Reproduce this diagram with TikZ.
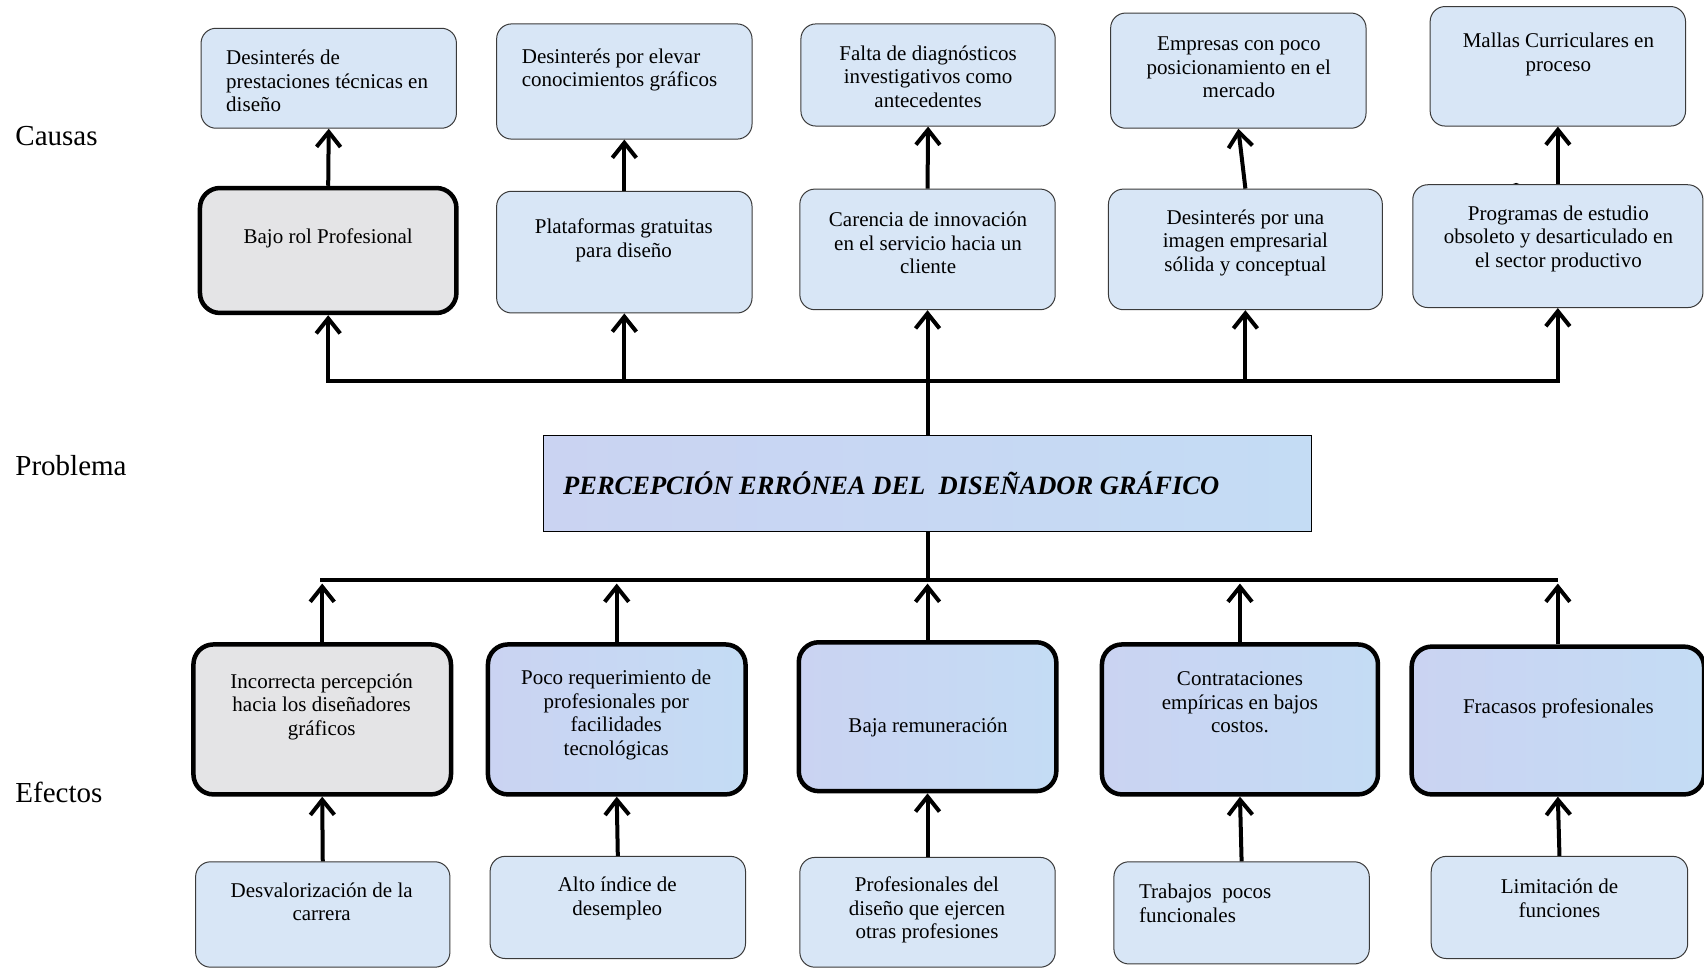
\documentclass[tikz,border=0pt]{standalone}
\usepackage{fontspec}
\setmainfont{Liberation Serif}
\usetikzlibrary{arrows.meta,fit}
\definecolor{lblue}{HTML}{D8E6F6}
\definecolor{pastel}{HTML}{CAD3F2}
\definecolor{pastelb}{HTML}{C4DCF4}
\definecolor{marble}{HTML}{E4E4E6}
\definecolor{edge}{HTML}{3A3A3A}
\begin{document}
\begin{tikzpicture}[x=1.0867pt,y=-1.0867pt,
  thinbox/.style={draw=edge, line width=1pt, fill=lblue, rounded corners=15pt, inner sep=0pt},
  thickbox/.style={draw=black, line width=4.5pt, rounded corners=20pt, inner sep=0pt},
  pastelfill/.style={left color=pastel, right color=pastelb},
  probbox/.style={draw=black, line width=1pt, pastelfill, inner sep=0pt},
  txt/.style={font=\fontsize{21}{23.5}\selectfont, inner sep=0pt},
  side/.style={font=\fontsize{29}{33}\selectfont, anchor=west, inner sep=0pt},
  conn/.style={line width=4pt},
  arr/.style={line width=4pt, -{Straight Barb[length=15pt,width=24pt]}}]
\useasboundingbox (0,0) rectangle (1568,890);
\fill[white] (0,0) rectangle (1568,890);

% side labels
\node[side] (causas) at (14,125) {Causas};
\node[side] (problema) at (14,428) {Problema};
\node[side] (efectos) at (14,729) {Efectos};

% small blob
\fill (1395,172) ellipse [x radius=5pt, y radius=4pt];

% causes, top row
\node[thinbox, fit={(185,26) (420,118)}] (a1) {};
\node[thinbox, fit={(457,22) (692,128)}] (a2) {};
\node[thinbox, fit={(737,22) (971,116)}] (a3) {};
\node[thinbox, fit={(1022,12) (1257,118)}] (a4) {};
\node[thinbox, fit={(1316,6) (1551,116)}] (a5) {};
\node[txt, anchor=west, align=left] (a1t) at (208,74.5) {Desinterés de\\prestaciones técnicas en\\diseño};
\node[txt, anchor=west, align=left] (a2t) at (480,64.5) {Desinterés por elevar\\conocimientos gráficos};
\node[txt, align=center] (a3t) at (854,70.5) {Falta de diagnósticos\\investigativos como\\antecedentes};
\node[txt, align=center] (a4t) at (1140,62) {Empresas con poco\\posicionamiento en el\\mercado};
\node[txt, align=center] (a5t) at (1434,50) {Mallas Curriculares en\\proceso};

% causes, second row
\node[thickbox, fill=marble, fit={(184,173) (420,288)}] (b1) {};
\node[thinbox, fit={(457,176) (692,288)}] (b2) {};
\node[thinbox, fit={(736,174) (971,285)}] (b3) {};
\node[thinbox, fit={(1020,174) (1272,285)}] (b4) {};
\node[thinbox, fit={(1300,170) (1567,283)}] (b5) {};
\node[txt, align=center] (b1t) at (302,219) {Bajo rol Profesional};
\node[txt, align=center] (b2t) at (574,221) {Plataformas gratuitas\\para diseño};
\node[txt, align=center] (b3t) at (854,223.5) {Carencia de innovación\\en el servicio hacia un\\cliente};
\node[txt, align=center] (b4t) at (1146,223.5) {Desinterés por una\\imagen empresarial\\sólida y conceptual};
\node[txt, align=center] (b5t) at (1434,219.5) {Programas de estudio\\obsoleto y desarticulado en\\el sector productivo};

% problem
\node[probbox, fit={(500,401) (1207,489)}] (prob) {};
\node[anchor=west, inner sep=0pt, font=\fontsize{26.5}{30}\selectfont\bfseries\itshape] (probt) at (518,445) {PERCEPCIÓN ERRÓNEA DEL~ DISEÑADOR GRÁFICO};

% effects
\node[thickbox, fill=marble, fit={(178,593) (415,731)}] (c1) {};
\node[thickbox, pastelfill, fit={(449,593) (686,731)}] (c2) {};
\node[thickbox, pastelfill, fit={(735,591) (972,728)}] (c3) {};
\node[thickbox, pastelfill, fit={(1014,593) (1268,731)}] (c4) {};
\node[thickbox, pastelfill, fit={(1299,595) (1568,731)}] (c5) {};
\node[txt, align=center] (c1t) at (296,650.5) {Incorrecta percepción\\hacia los diseñadores\\gráficos};
\node[txt, align=center] (c2t) at (567,658) {Poco requerimiento de\\profesionales por\\facilidades\\tecnológicas};
\node[txt, align=center] (c3t) at (854,669) {Baja remuneración};
\node[txt, align=center] (c4t) at (1141,646.5) {Contrataciones\\empíricas en bajos\\costos.};
\node[txt, align=center] (c5t) at (1434,652) {Fracasos profesionales};

\node[thinbox, fit={(180,793) (414,890)}] (d1) {};
\node[thinbox, fit={(451,788) (686,882)}] (d2) {};
\node[thinbox, fit={(736,789) (971,890)}] (d3) {};
\node[thinbox, fit={(1025,793) (1260,887)}] (d4) {};
\node[thinbox, fit={(1317,788) (1553,882)}] (d5) {};
\node[txt, align=center] (d1t) at (296,830) {Desvalorización de la\\carrera};
\node[txt, align=center] (d2t) at (568,826.5) {Alto índice de\\desempleo};
\node[txt, align=center] (d3t) at (853,837.5) {Profesionales del\\diseño que ejercen\\otras profesiones};
\node[txt, anchor=west, align=left] (d4t) at (1048,831) {Trabajos~ pocos\\funcionales};
\node[txt, align=center] (d5t) at (1435,826.5) {Limitación de\\funciones};

% connectors: causes
\draw[arr] (b1.north) -- (a1.south);
\draw[arr] (b2.north) -- (a2.south);
\draw[arr] (b3.north) -- (a3.south);
\draw[arr] (b4.north) -- (a4.south);
\draw[arr] (b5.north) -- (a5.south);

\coordinate (cbus) at (0,351);
\draw[conn, line cap=rect] (b1.south |- cbus) -- (b5.south |- cbus);
\draw[arr] (b1.south |- cbus) -- (b1.south);
\draw[arr] (b2.south |- cbus) -- (b2.south);
\draw[arr] (prob.north) -- (b3.south);
\draw[arr] (b4.south |- cbus) -- (b4.south);
\draw[arr] (b5.south |- cbus) -- (b5.south);

% connectors: effects
\coordinate (ebus) at (0,534);
\coordinate (etip) at (0,537);
\draw[conn, line cap=rect] (c1.north |- ebus) -- ([xshift=-2pt]c5.north |- ebus);
\draw[conn] (prob.south) -- (prob.south |- ebus);
\draw[arr] (c1.north) -- (c1.north |- etip);
\draw[arr] (c2.north) -- (c2.north |- etip);
\draw[arr] (c3.north) -- (c3.north |- etip);
\draw[arr] (c4.north) -- (c4.north |- etip);
\draw[arr] (c5.north) -- (c5.north |- etip);

\draw[arr] (d1.north) -- (c1.south);
\draw[arr] (d2.north) -- (c2.south);
\draw[arr] (d3.north) -- (c3.south);
\draw[arr] (d4.north) -- (c4.south);
\draw[arr] (d5.north) -- (c5.south);
\end{tikzpicture}
\end{document}
